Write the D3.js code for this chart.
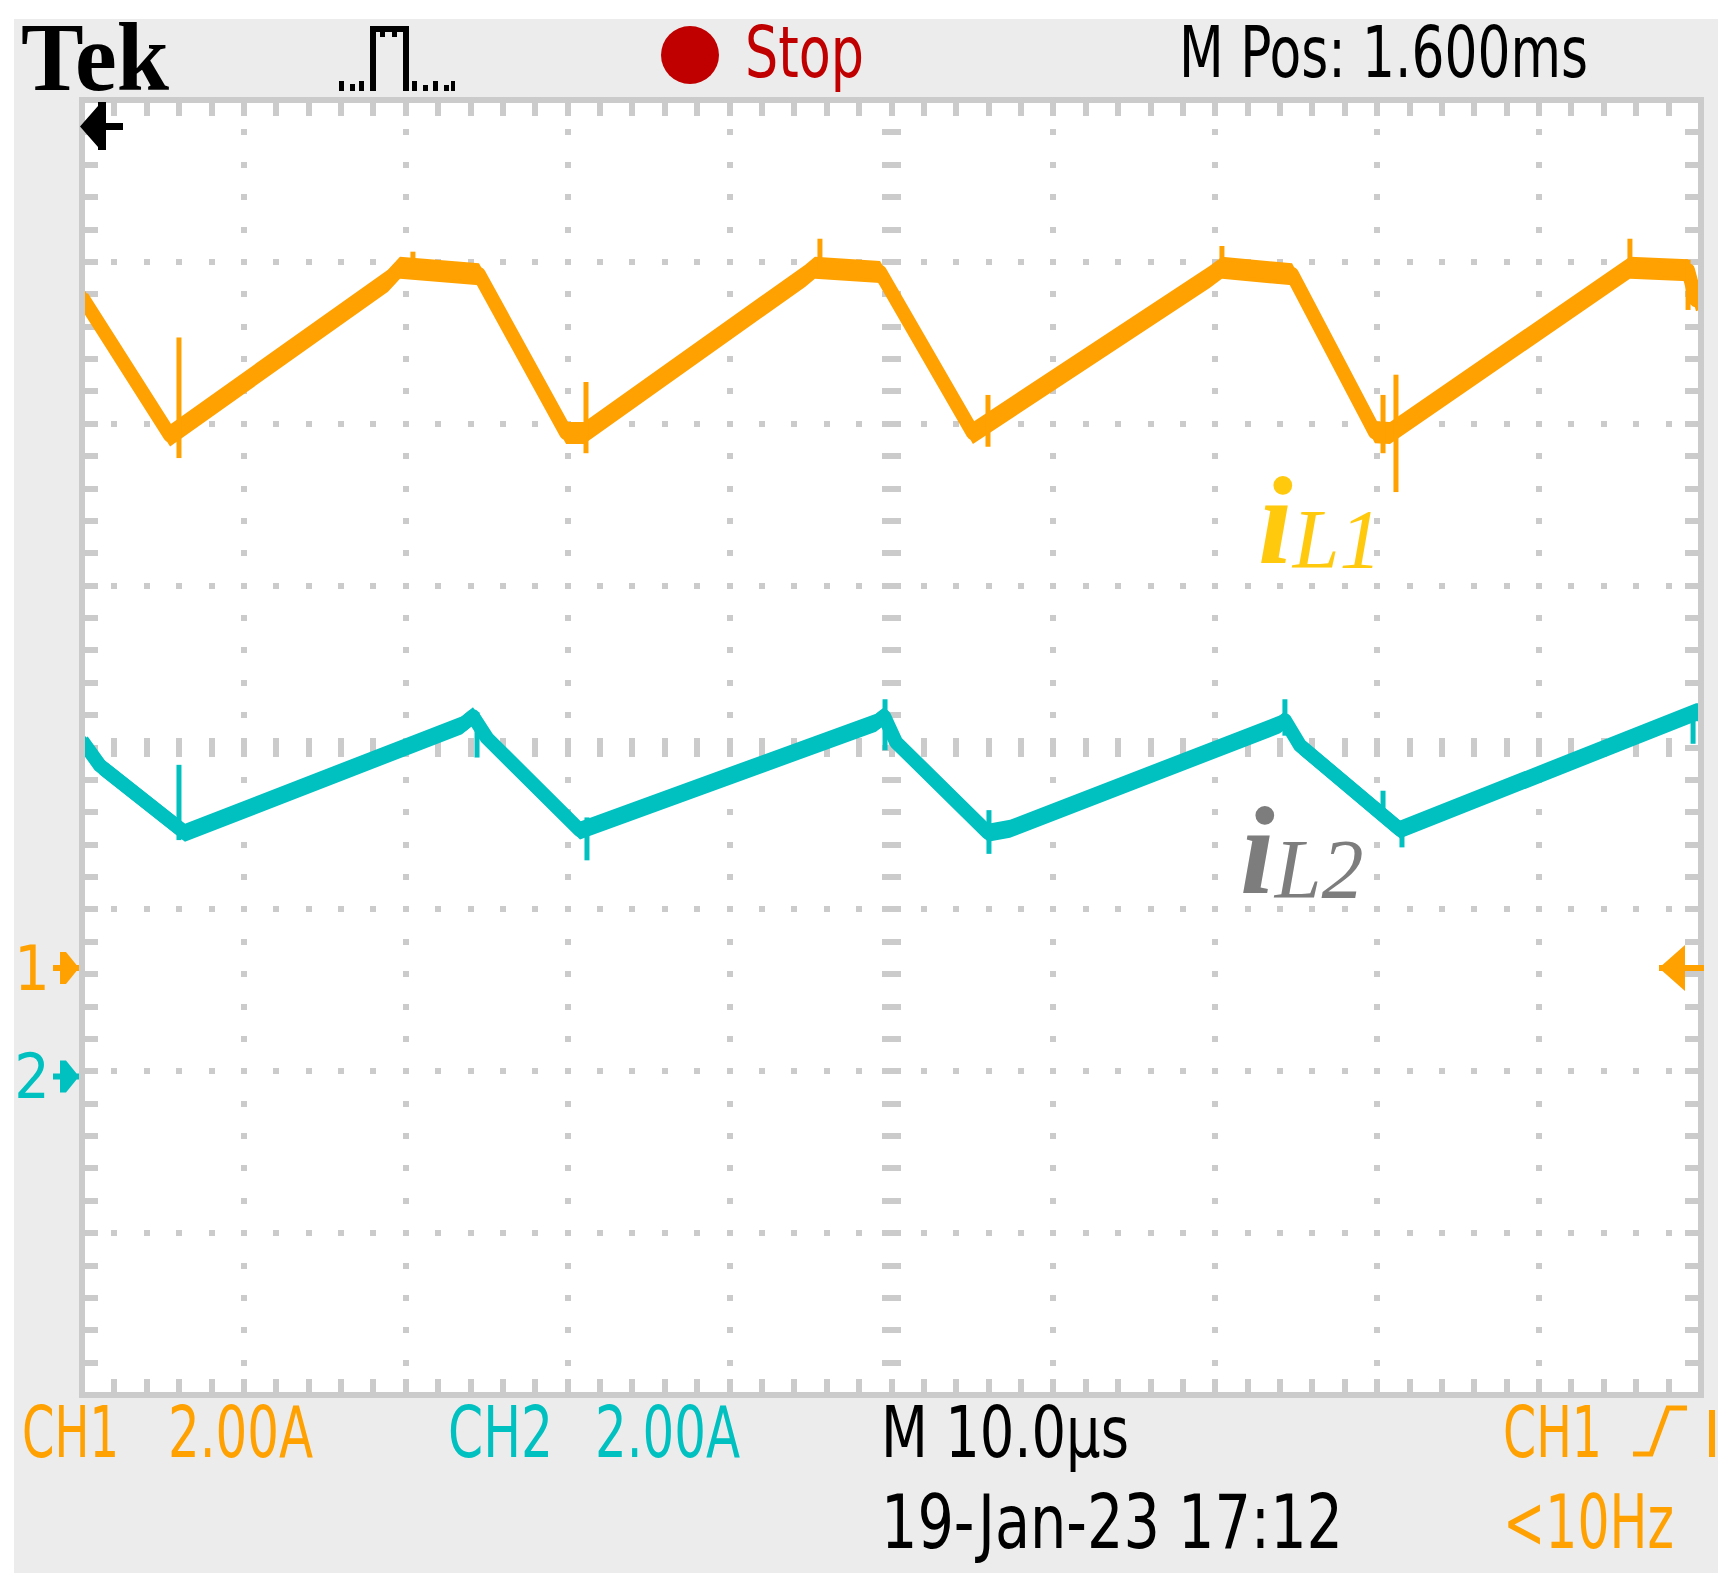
<!DOCTYPE html>
<html>
<head>
<meta charset="utf-8">
<script src="https://cdn.jsdelivr.net/npm/d3@7"></script>
<style>
  html, body { margin: 0; padding: 0; background: #fff; }
  svg { display: block; }
  .tek { font-family: "Liberation Sans Narrow", "DejaVu Sans Condensed", "Liberation Sans", sans-serif; }
</style>
</head>
<body>
<svg id="scope"></svg>
<script>
// values read off the screen capture
// horizontal: 10 div x 10.0 us/div, vertical: 8 div x 2.00 A/div

// CH1 (iL1) trace vertices, time in us and current in A
const ch1Time = [0, 5.44, 18.90, 19.64, 24.52, 29.90, 31.01, 44.66, 45.27, 49.29, 55.03, 69.67, 70.41, 74.74, 79.86, 80.79, 94.87, 95.61, 99.20, 99.69, 100];
const ch1Amps = [8.29, 6.58, 8.49, 8.65, 8.57, 6.61, 6.61, 8.55, 8.65, 8.60, 6.61, 8.54, 8.65, 8.57, 6.62, 6.61, 8.55, 8.65, 8.62, 8.25, 8.27];

// CH1 switching spikes
const ch1SpikeTime = [5.99, 20.44, 31.13, 45.58, 55.96, 70.41, 80.36, 81.16, 95.61, 99.20];
const ch1SpikeLow  = [6.30, 8.56, 6.36, 8.62, 6.44, 8.62, 6.36, 5.88, 8.68, 8.13];
const ch1SpikeHigh = [7.79, 8.85, 7.24, 9.01, 7.08, 8.92, 7.08, 7.33, 9.01, 8.75];

// CH2 (iL2) trace vertices
const ch2Time = [0, 1.11, 6.36, 23.47, 24.15, 25.02, 30.76, 49.04, 49.54, 50.28, 55.96, 57.32, 74.00, 74.30, 75.23, 81.41, 99.69, 100];
const ch2Amps = [4.15, 3.84, 3.01, 4.34, 4.45, 4.18, 3.04, 4.37, 4.45, 4.13, 3.01, 3.06, 4.35, 4.40, 4.09, 3.05, 4.50, 4.50];

// CH2 switching spikes
const ch2SpikeTime = [5.99, 24.40, 31.19, 49.60, 56.02, 74.30, 80.36, 81.53, 99.51];
const ch2SpikeLow  = [2.92, 3.94, 2.67, 4.03, 2.75, 4.21, 3.16, 2.83, 4.11];
const ch2SpikeHigh = [3.85, 4.50, 3.20, 4.66, 3.29, 4.66, 3.53, 3.16, 4.56];

// channel ground positions (divisions from centre) and trigger level (A)
const ch1Offset = -1.362;
const ch2Offset = -2.032;
const trigLevel = 0;

// readout texts
const headerBrand = "Tek";
const runState = "Stop";
const mPosLabel = "M Pos: 1.600ms";
const ch1Label = ["CH1", "2.00A"];
const ch2Label = ["CH2", "2.00A"];
const timeBaseLabel = "M 10.0\u00b5s";
const dateLabel = "19-Jan-23 17:12";
const trigLabel = ["CH1", "<10Hz"];

const ORANGE = "#ffa100", TEAL = "#00c0c0", GRID = "#cbcbcb";

const W = 1733, H = 1590;
const frame = { left: 82, right: 1701, top: 100, bottom: 1395 };

const svg = d3.select("#scope").attr("width", W).attr("height", H);

// scales
const x = d3.scaleLinear().domain([0, 100]).range([frame.left, frame.right]);
const div = d3.scaleLinear().domain([-4, 4]).range([frame.bottom, frame.top]);
const chScale = off => d3.scaleLinear().domain([(-4 - off) * 2, (4 - off) * 2]).range([frame.bottom, frame.top]);
const y1 = chScale(ch1Offset);
const y2 = chScale(ch2Offset);

// background panel
svg.append("rect").attr("width", W).attr("height", H).attr("fill", "#fff");
svg.append("rect").attr("x", 14).attr("y", 19).attr("width", 1704).attr("height", 1554).attr("fill", "#ececec");

// graticule
svg.append("rect")
    .attr("x", frame.left).attr("y", frame.top)
    .attr("width", frame.right - frame.left).attr("height", frame.bottom - frame.top)
    .attr("fill", "#fff").attr("stroke", GRID).attr("stroke-width", 6);

const g = svg.append("g").attr("fill", GRID).attr("shape-rendering", "crispEdges");
const minorX = d3.range(2, 100, 2);          // 5 minor per division
const minorY = d3.range(-3.8, 3.9, 0.2);
const majorX = d3.range(10, 100, 10);
const majorY = d3.range(-3, 4, 1);

// dots along the vertical grid lines
majorX.forEach(t => {
    const centre = t === 50;
    minorY.forEach(d => {
        const w = centre ? 19 : 6;
        g.append("rect").attr("x", x(t) - w / 2).attr("y", div(d) - 3).attr("width", w).attr("height", 6);
    });
});
// dots along the horizontal grid lines
majorY.forEach(d => {
    const centre = d === 0;
    minorX.forEach(t => {
        const h = centre ? 19 : 6;
        g.append("rect").attr("x", x(t) - 3).attr("y", div(d) - h / 2).attr("width", 6).attr("height", h);
    });
});
// ticks on the frame edges
minorX.forEach(t => {
    g.append("rect").attr("x", x(t) - 3).attr("y", frame.top + 3).attr("width", 6).attr("height", 13);
    g.append("rect").attr("x", x(t) - 3).attr("y", frame.bottom - 16).attr("width", 6).attr("height", 13);
});
minorY.forEach(d => {
    g.append("rect").attr("x", frame.left + 3).attr("y", div(d) - 3).attr("width", 13).attr("height", 6);
    g.append("rect").attr("x", frame.right - 16).attr("y", div(d) - 3).attr("width", 13).attr("height", 6);
});

// clip the traces to the screen
svg.append("clipPath").attr("id", "screen")
  .append("rect")
    .attr("x", frame.left + 3).attr("y", frame.top + 3)
    .attr("width", frame.right - frame.left - 6).attr("height", frame.bottom - frame.top - 6);

const traces = svg.append("g").attr("clip-path", "url(#screen)");

// the scope paints a band about 20 px tall (sample noise), so fill a
// vertical band round the trace and stroke its centre line as well
function drawTrace(times, amps, sTime, sLow, sHigh, yScale, color, half) {
    const pts = d3.zip(times, amps);
    const band = d3.area()
        .x(d => x(d[0]))
        .y0(d => yScale(d[1]) + half)
        .y1(d => yScale(d[1]) - half);
    const line = d3.line()
        .x(d => x(d[0]))
        .y(d => yScale(d[1]));
    traces.append("path")
        .datum(pts)
        .attr("d", band)
        .attr("fill", color);
    traces.append("path")
        .datum(pts)
        .attr("d", line)
        .attr("fill", "none")
        .attr("stroke", color)
        .attr("stroke-width", 14)
        .attr("stroke-linejoin", "round");
    traces.selectAll(null)
        .data(d3.zip(sTime, sLow, sHigh))
        .enter()
        .append("line")
          .attr("x1", d => x(d[0])).attr("x2", d => x(d[0]))
          .attr("y1", d => yScale(d[1])).attr("y2", d => yScale(d[2]))
          .attr("stroke", color)
          .attr("stroke-width", 5);
}

drawTrace(ch2Time, ch2Amps, ch2SpikeTime, ch2SpikeLow, ch2SpikeHigh, y2, TEAL, 9);
drawTrace(ch1Time, ch1Amps, ch1SpikeTime, ch1SpikeLow, ch1SpikeHigh, y1, ORANGE, 11);

// trace labels
function traceLabel(xp, yp, sub, color) {
    const t = svg.append("text")
        .attr("x", xp).attr("y", yp)
        .attr("fill", color)
        .attr("font-family", "'Liberation Serif', 'DejaVu Serif', serif")
        .attr("font-style", "italic");
    t.append("tspan").attr("font-size", 125).attr("font-weight", "bold").text("i");
    t.append("tspan").attr("font-size", 84).attr("dy", 5).text(sub);
}
traceLabel(1258, 563, "L1", "#ffc90e");
traceLabel(1240, 893, "L2", "#7d7d7d");

// ground markers on the left
function groundMarker(yp, label, color) {
    svg.append("text").attr("class", "tek")
        .attr("x", 32).attr("y", yp + 22)
        .attr("text-anchor", "middle")
        .attr("font-size", 62).attr("fill", color)
        .text(label);
    svg.append("path")
        .attr("d", `M53,${yp - 3}H79V${yp + 3}H53Z M60,${yp - 16}H66L79,${yp}L66,${yp + 16}H60Z`)
        .attr("fill", color);
}
groundMarker(y1(0), "1", ORANGE);
groundMarker(y2(0), "2", TEAL);

// trigger level marker on the right
const ty = y1(trigLevel);
svg.append("path")
    .attr("d", `M1659,${ty - 3}H1704V${ty + 3}H1659Z M1659,${ty}L1685,${ty - 23}V${ty + 23}Z`)
    .attr("fill", ORANGE);

// trigger position marker, top left
svg.append("path")
    .attr("d", "M80,126.5L98,106V102H106V123H123V130H106V150H98V147Z")
    .attr("fill", "#000");

// header
svg.append("text")
    .attr("x", 21).attr("y", 90)
    .attr("font-family", "'Liberation Serif', 'DejaVu Serif', serif")
    .attr("font-weight", "bold").attr("font-size", 97)
    .attr("textLength", 148).attr("lengthAdjust", "spacingAndGlyphs")
    .text(headerBrand);

// pulse trigger icon
svg.append("path")
    .attr("d", "M339,81h5v10h-5z M350,84h5v7h-5z M359,81h5v10h-5z M370,26h6v65h-6z M376,26h33v6h-33z M380,32h5v5h-5z M392,32h5v5h-5z M403,32h6v59h-6z M412,81h5v10h-5z M423,85h5v6h-5z M433,81h5v10h-5z M444,85h5v6h-5z M451,81h4v10h-4z")
    .attr("fill", "#000");

svg.append("circle").attr("cx", 690).attr("cy", 55).attr("r", 29).attr("fill", "#c00000");

function readout(xp, yp, str, len, color, size) {
    svg.append("text").attr("class", "tek")
        .attr("x", xp).attr("y", yp)
        .attr("font-size", size || 71)
        .attr("fill", color)
        .attr("textLength", len).attr("lengthAdjust", "spacingAndGlyphs")
        .text(str);
}

readout(745, 77, runState, 119, "#c00000");
readout(1179, 77, mPosLabel, 409, "#000");

readout(22, 1457, ch1Label[0], 97, ORANGE, 72);
readout(168, 1457, ch1Label[1], 145, ORANGE, 72);
readout(448, 1457, ch2Label[0], 105, TEAL, 72);
readout(595, 1457, ch2Label[1], 145, TEAL, 72);
readout(881, 1457, timeBaseLabel, 248, "#000", 72);
readout(1503, 1457, trigLabel[0], 99, ORANGE, 72);
readout(881, 1548, dateLabel, 462, "#000", 74);
readout(1503, 1548, trigLabel[1], 171, ORANGE, 74);

// rising-edge slope symbol and clipped start of the level readout
svg.append("path")
    .attr("d", "M1633,1454H1651L1668,1408H1687")
    .attr("fill", "none").attr("stroke", ORANGE).attr("stroke-width", 5);
svg.append("rect").attr("x", 1709).attr("y", 1410).attr("width", 6).attr("height", 47).attr("fill", ORANGE);
</script>
</body>
</html>
